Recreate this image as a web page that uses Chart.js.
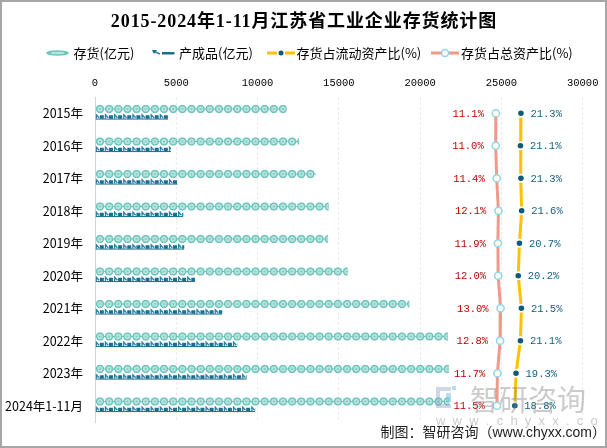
<!DOCTYPE html>
<html>
<head>
<meta charset="utf-8">
<script src="https://cdn.jsdelivr.net/npm/chart.js@4.4.0/dist/chart.umd.min.js"></script>
<style>
body { margin: 0; background: #fff; }
</style>
</head>
<body>
<canvas id="stockChart" width="607" height="448"></canvas>
<script>
const years = ['2015年', '2016年', '2017年', '2018年', '2019年', '2020年', '2021年', '2022年', '2023年', '2024年1-11月'];
const inventory = [11790, 12550, 13570, 14370, 14330, 15540, 19330, 21710, 21770, 21800];
const products = [4510, 4670, 5090, 5430, 5490, 6150, 7830, 8750, 9330, 9860];
const currentRatio = [21.3, 21.1, 21.3, 21.6, 20.7, 20.2, 21.5, 21.1, 19.3, 18.8];
const totalRatio = [11.1, 11.0, 11.4, 12.1, 11.9, 12.0, 13.0, 12.8, 11.7, 11.5];
const xTicks = [0, 5000, 10000, 15000, 20000, 25000, 30000];
const legendNames = ['存货(亿元)', '产成品(亿元)', '存货占流动资产比(%)', '存货占总资产比(%)'];

const monoFont = '"Liberation Mono", "DejaVu Sans Mono", monospace';
const cjkFont = '"Noto Sans CJK SC", sans-serif';

const barBox = (bar) => {
  const h = bar.height;
  const left = Math.min(bar.base, bar.x);
  return { left: left, top: bar.y - h / 2, w: Math.abs(bar.x - bar.base), h: h };
}

// bead look of the inventory bars
const drawBeads = (ctx, bar) => {
  const b = barBox(bar);
  ctx.save();
  ctx.beginPath();
  ctx.rect(b.left, b.top, b.w, b.h);
  ctx.clip();
  ctx.strokeStyle = '#6cc4bb';
  ctx.lineWidth = 1;
  ctx.beginPath();
  ctx.moveTo(b.left, bar.y);
  ctx.lineTo(b.left + b.w, bar.y);
  ctx.stroke();
  for (let cx = b.left + 4.5; cx - 4.5 < b.left + b.w; cx += 9.15) {
    ctx.fillStyle = '#6cc4bb';
    ctx.beginPath(); ctx.arc(cx, bar.y, 4.2, 0, Math.PI * 2); ctx.fill();
    ctx.fillStyle = '#b6e3de';
    ctx.beginPath(); ctx.arc(cx, bar.y, 2.7, 0, Math.PI * 2); ctx.fill();
    ctx.fillStyle = '#84cdc5';
    ctx.beginPath(); ctx.arc(cx, bar.y, 1.1, 0, Math.PI * 2); ctx.fill();
  }
  ctx.restore();
}

// little glyph look of the product bars
const drawGlyphs = (ctx, bar) => {
  const b = barBox(bar);
  ctx.save();
  ctx.beginPath();
  ctx.rect(b.left, b.top, b.w, b.h);
  ctx.clip();
  ctx.fillStyle = '#1d6d91';
  ctx.fillRect(b.left, b.top + b.h - 1.2, b.w, 1.2);
  for (let gx = b.left; gx < b.left + b.w; gx += 9.15) {
    ctx.strokeStyle = '#2c81a6';
    ctx.lineWidth = 1.3;
    ctx.beginPath();
    ctx.moveTo(gx + 0.8, b.top + b.h - 1);
    ctx.lineTo(gx + 0.8, b.top + 1.5);
    ctx.lineTo(gx + 3.6, b.top + b.h - 2);
    ctx.stroke();
    ctx.fillRect(gx + 4.3, b.top + 2, 4, b.h - 3);
  }
  ctx.restore();
}

const barLook = {
  id: 'barLook',
  afterDatasetDraw(chart, args) {
    const ctx = chart.ctx;
    if (args.index === 0) args.meta.data.forEach(bar => drawBeads(ctx, bar));
    if (args.index === 1) args.meta.data.forEach(bar => drawGlyphs(ctx, bar));
  }
};

const pointLabels = {
  id: 'pointLabels',
  afterDatasetsDraw(chart) {
    const ctx = chart.ctx;
    ctx.save();
    ctx.font = '10.5px ' + monoFont;
    ctx.textBaseline = 'middle';
    chart.getDatasetMeta(2).data.forEach((pt, i) => {
      ctx.fillStyle = '#0f5f80';
      ctx.textAlign = 'left';
      ctx.fillText(currentRatio[i].toFixed(1) + '%', pt.x + 9.5, pt.y + 0.5);
    });
    chart.getDatasetMeta(3).data.forEach((pt, i) => {
      ctx.fillStyle = '#c00000';
      ctx.textAlign = 'right';
      ctx.fillText(totalRatio[i].toFixed(1) + '%', pt.x - 12, pt.y + 0.5);
    });
    ctx.restore();
  }
};

const decor = {
  id: 'decor',
  afterDraw(chart) {
    const ctx = chart.ctx;
    ctx.save();

    // title
    ctx.fillStyle = '#000';
    ctx.font = 'bold 18px "Liberation Serif", "Noto Sans CJK SC", serif';
    ctx.letterSpacing = '0.9px';
    ctx.textAlign = 'center';
    ctx.textBaseline = 'middle';
    ctx.fillText('2015-2024年1-11月江苏省工业企业存货统计图', 304, 22);
    ctx.letterSpacing = '0px';

    // legend
    const ly = 53;
    ctx.font = '13px ' + cjkFont;
    ctx.textAlign = 'left';
    ctx.fillStyle = '#6cc4bb';
    ctx.beginPath(); ctx.ellipse(57.5, ly, 11.5, 2.8, 0, 0, Math.PI * 2); ctx.fill();
    ctx.fillStyle = '#b6e3de';
    ctx.beginPath(); ctx.ellipse(57.5, ly, 7, 1.3, 0, 0, Math.PI * 2); ctx.fill();
    ctx.fillStyle = '#000';
    ctx.fillText(legendNames[0], 73.5, ly);

    ctx.strokeStyle = '#2c81a6';
    ctx.fillStyle = '#1d6d91';
    ctx.lineWidth = 1.5;
    ctx.beginPath(); ctx.moveTo(160, ly + 1); ctx.lineTo(153, ly - 2); ctx.stroke();
    ctx.beginPath(); ctx.moveTo(152, ly - 3); ctx.lineTo(157, ly - 3); ctx.lineTo(154, ly + 1); ctx.closePath(); ctx.fill();
    ctx.fillRect(162, ly - 1, 12.5, 2.5);
    ctx.fillStyle = '#000';
    ctx.fillText(legendNames[1], 179, ly);

    ctx.strokeStyle = '#ffc000';
    ctx.lineWidth = 3;
    ctx.beginPath(); ctx.moveTo(267, ly); ctx.lineTo(295, ly); ctx.stroke();
    ctx.fillStyle = '#fff';
    ctx.beginPath(); ctx.arc(281, ly, 4, 0, Math.PI * 2); ctx.fill();
    ctx.fillStyle = '#0e5a7a';
    ctx.beginPath(); ctx.arc(281, ly, 2.5, 0, Math.PI * 2); ctx.fill();
    ctx.fillStyle = '#000';
    ctx.fillText(legendNames[2], 296.5, ly);

    ctx.strokeStyle = '#f0998a';
    ctx.lineWidth = 3;
    ctx.beginPath(); ctx.moveTo(431, ly); ctx.lineTo(459, ly); ctx.stroke();
    ctx.fillStyle = '#fffdf0';
    ctx.strokeStyle = '#8fd5ef';
    ctx.lineWidth = 1.5;
    ctx.beginPath(); ctx.arc(445, ly, 3.5, 0, Math.PI * 2); ctx.fill(); ctx.stroke();
    ctx.fillStyle = '#000';
    ctx.fillText(legendNames[3], 461, ly);

    // watermark
    ctx.fillStyle = 'rgba(150, 165, 200, 0.45)';
    ctx.fillRect(436, 387, 15, 4);
    ctx.fillRect(436, 391, 4, 15);
    ctx.fillRect(436, 404, 15, 4);
    ctx.fillStyle = 'rgba(110, 190, 230, 0.5)';
    ctx.fillRect(446, 393, 5, 9);
    ctx.fillRect(452, 386, 4, 4);
    ctx.fillStyle = 'rgba(140, 140, 140, 0.45)';
    ctx.font = '29px ' + cjkFont;
    ctx.textBaseline = 'middle';
    ctx.fillText('智研咨询', 470, 400);
    ctx.font = '13px "Liberation Sans", sans-serif';
    ctx.fillText('w  w  w  .  c  h  y  x  x  .  c  o  m', 436, 421);

    // footer
    ctx.fillStyle = '#222';
    ctx.font = '14px "Liberation Sans", "Noto Sans CJK SC", sans-serif';
    ctx.textAlign = 'right';
    ctx.fillText('制图：智研咨询（www.chyxx.com）', 606, 433);

    // frame
    ctx.strokeStyle = '#a6a6a6';
    ctx.lineWidth = 2;
    ctx.strokeRect(1, 1, 605, 446);
    ctx.restore();
  }
};

const config = {
  data: {
    labels: years,
    datasets: [{
      type: 'bar',
      label: legendNames[0],
      data: inventory,
      backgroundColor: 'rgba(0,0,0,0)',
      barThickness: 8.5,
      xAxisID: 'x',
      order: 3
    }, {
      type: 'bar',
      label: legendNames[1],
      data: products,
      backgroundColor: 'rgba(0,0,0,0)',
      barThickness: 6.5,
      xAxisID: 'x',
      order: 4
    }, {
      type: 'line',
      label: legendNames[2],
      data: currentRatio,
      xAxisID: 'x2',
      borderColor: '#ffc000',
      borderWidth: 3,
      tension: 0,
      fill: false,
      pointRadius: 3.6,
      pointBackgroundColor: '#0e5a7a',
      pointBorderColor: '#ffffff',
      pointBorderWidth: 1.6,
      order: 1
    }, {
      type: 'line',
      label: legendNames[3],
      data: totalRatio,
      xAxisID: 'x2',
      borderColor: '#f0998a',
      borderWidth: 3,
      tension: 0,
      fill: false,
      pointRadius: 3.6,
      pointBackgroundColor: '#fffdf0',
      pointBorderColor: '#8fd5ef',
      pointBorderWidth: 1.5,
      order: 2
    }]
  },
  options: {
    indexAxis: 'y',
    responsive: false,
    animation: false,
    layout: { padding: { left: 5, top: 77, right: 24.3, bottom: 26 } },
    datasets: {
      bar: { categoryPercentage: 0.566, barPercentage: 1 }
    },
    plugins: {
      legend: { display: false },
      title: { display: false },
      tooltip: { enabled: false }
    },
    scales: {
      x: {
        axis: 'x',
        position: 'top',
        min: 0,
        max: 30000,
        afterBuildTicks: s => { s.ticks = xTicks.map(v => ({ value: v })) },
        afterFit: s => { s.height = 20 },
        ticks: {
          color: '#000',
          padding: 7,
          font: { family: monoFont, size: 10.5 },
          callback: v => String(v)
        },
        grid: { color: '#ececec', drawTicks: false },
        border: { display: false, dash: [3, 2] }
      },
      x2: {
        axis: 'x',
        type: 'linear',
        position: 'top',
        display: false,
        min: -152.5,
        max: 46.5
      },
      y: {
        afterFit: s => { s.width = 90 },
        ticks: {
          color: '#000',
          padding: 12,
          font: { family: cjkFont, size: 12.5 }
        },
        grid: { display: false, drawTicks: false },
        border: { display: true, color: '#d4d4d4', width: 1 }
      }
    }
  },
  plugins: [barLook, pointLabels, decor]
};

const stockChart = new Chart(document.getElementById('stockChart'), config);
</script>
</body>
</html>
